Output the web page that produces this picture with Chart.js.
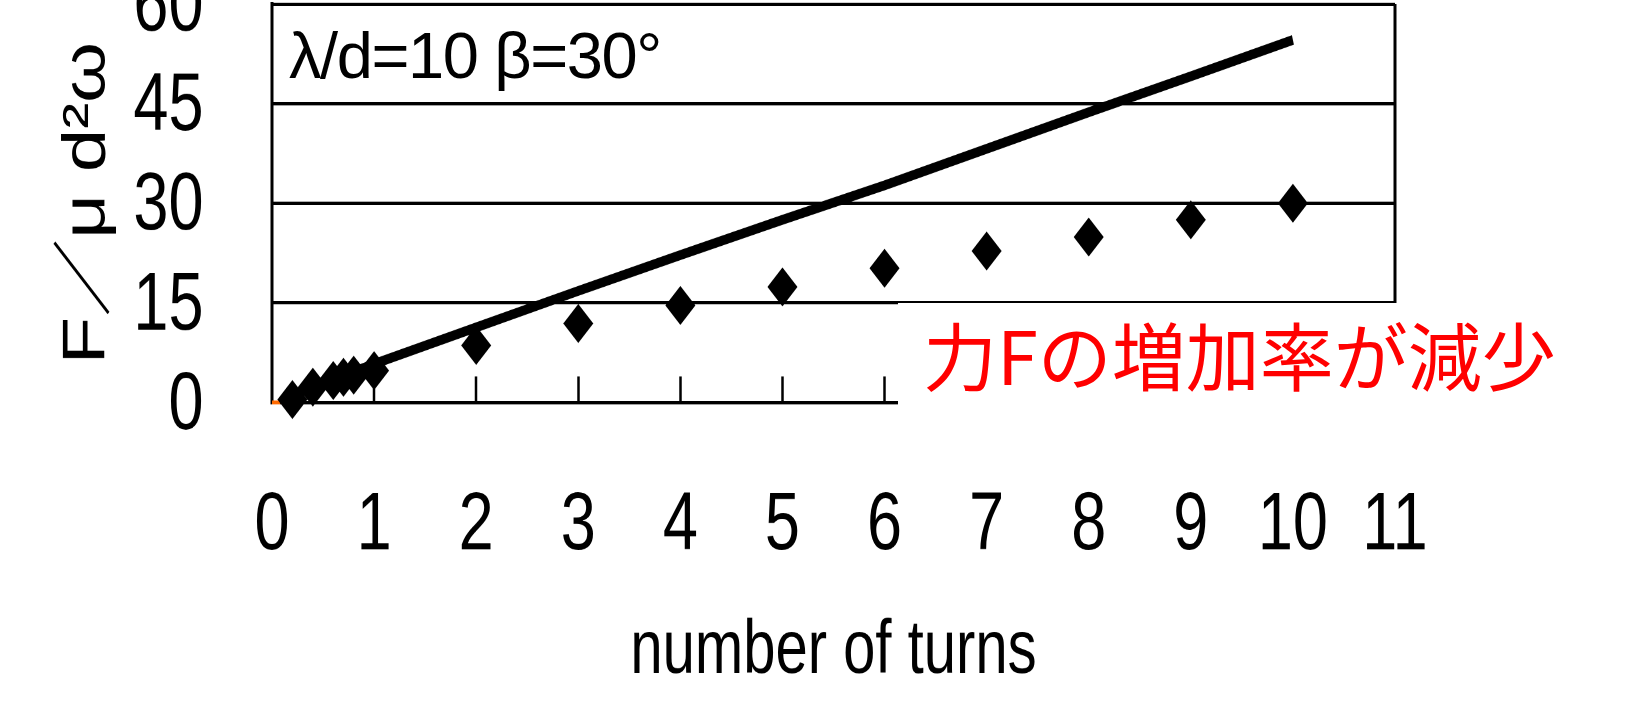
<!DOCTYPE html>
<html>
<head>
<meta charset="utf-8">
<script src="https://cdn.jsdelivr.net/npm/chart.js@4/dist/chart.umd.min.js"></script>
<style>
html, body { margin: 0; padding: 0; background: #fff; }
body { width: 1626px; height: 701px; position: relative; overflow: hidden; }
#wrap { position: absolute; left: 0; top: -126.5px; width: 1626px; height: 640px; transform: scaleY(1.3); transform-origin: 0 0; }
#cover { position: absolute; left: 898px; top: 303px; width: 728px; height: 167px; background: #fff; }
#note { position: absolute; left: 923px; top: 316px; font: 74px "Noto Sans CJK JP"; line-height: 74px; color: #ff0000; white-space: nowrap; }
#param { position: absolute; left: 289px; top: 23px; font: 65px "Liberation Sans"; line-height: 65px; letter-spacing: -1.4px; color: #000; white-space: nowrap; }
</style>
</head>
<body>
<div id="wrap"><canvas id="forceChart"></canvas></div>
<div id="param">λ/d=10 β=30°</div>
<div id="cover"></div>
<div id="note">力Fの増加率が減少</div>
<script>
// measured points (diamonds)
const turnsMeasured = [0.2, 0.4, 0.6, 0.7, 0.8, 1, 2, 3, 4, 5, 6, 7, 8, 9, 10];
const forceMeasured = [0.45, 2.3, 3.3, 3.8, 4.1, 4.8, 8.6, 11.9, 14.6, 17.4, 20.2, 22.8, 24.9, 27.5, 30.0];

// theory line
const turnsTheory = [0.2, 1, 2, 3, 4, 5, 6, 7, 8, 9, 10];
const forceTheory = [1.1, 5.8, 11.3, 16.8, 22.2, 27.5, 32.7, 38.2, 43.7, 49.1, 54.6];

// small orange stub at the origin
const originX = [0, 0.08];
const originY = [0, 0];

const xTicks = [0, 1, 2, 3, 4, 5, 6, 7, 8, 9, 10, 11];
const yTicks = [0, 15, 30, 45, 60];

const toPoints = (xs, ys) => xs.map((x, i) => ({ x: x, y: ys[i] }));
const narrow = "'Liberation Sans Narrow', 'Arial Narrow', 'Liberation Sans', sans-serif";

const ctx = document.getElementById('forceChart').getContext('2d');
new Chart(ctx, {
    type: 'scatter',
    data: {
        datasets: [
            {
                label: 'theory',
                data: toPoints(turnsTheory, forceTheory),
                showLine: true,
                borderColor: '#000',
                borderWidth: 7.5,
                pointRadius: 0,
                tension: 0,
                clip: false
            },
            {
                label: 'measured',
                data: toPoints(turnsMeasured, forceMeasured),
                showLine: false,
                pointStyle: 'rectRot',
                pointRadius: 15,
                backgroundColor: '#000',
                borderWidth: 0,
                clip: false
            },
            {
                label: 'origin',
                data: toPoints(originX, originY),
                showLine: true,
                borderColor: '#ff6a00',
                borderWidth: 3,
                pointRadius: 0,
                clip: false
            }
        ]
    },
    options: {
        responsive: true,
        maintainAspectRatio: false,
        animation: false,
        devicePixelRatio: 2,
        layout: { padding: { top: 100, right: 231, bottom: 0, left: 0 } },
        plugins: {
            legend: { display: false },
            tooltip: { enabled: false }
        },
        scales: {
            x: {
                type: 'linear',
                min: 0,
                max: 11,
                afterBuildTicks: function(scale) {
                    scale.ticks = xTicks.map(v => ({ value: v }));
                },
                afterFit: function(scale) { scale.height = 233.5; },
                border: { display: true, color: '#000', width: 2.5 },
                grid: {
                    drawOnChartArea: true,
                    color: function(c) { return c.tick && c.tick.value === 11 ? '#000' : 'rgba(0,0,0,0)'; },
                    lineWidth: 3,
                    drawTicks: true,
                    tickLength: -20,
                    tickColor: '#000',
                    tickWidth: 2.5
                },
                ticks: {
                    color: '#000',
                    padding: 84,
                    autoSkip: false,
                    maxRotation: 0,
                    font: { family: narrow, size: 63, lineHeight: 1 }
                },
                title: {
                    display: true,
                    text: 'number of turns',
                    color: '#000',
                    font: { family: "'Liberation Sans', sans-serif", size: 58, lineHeight: 1 },
                    padding: { top: 0, bottom: 12.3 }
                }
            },
            y: {
                min: 0,
                max: 60,
                afterBuildTicks: function(scale) {
                    scale.ticks = yTicks.map(v => ({ value: v }));
                },
                afterFit: function(scale) { scale.width = 272; },
                border: { display: true, color: '#000', width: 3 },
                grid: {
                    color: '#000',
                    lineWidth: 2.5,
                    drawTicks: false
                },
                ticks: {
                    color: '#000',
                    padding: 68.5,
                    autoSkip: false,
                    labelOffset: 3,
                    font: { family: narrow, size: 63, lineHeight: 1 }
                },
                title: {
                    display: true,
                    text: 'F／μ d²ω',
                    color: '#000',
                    font: { family: "'Liberation Sans', 'Noto Sans CJK JP', sans-serif", size: 60, lineHeight: 1 },
                    padding: { top: 58.2, bottom: 0 }
                }
            }
        }
    }
});
</script>
</body>
</html>
